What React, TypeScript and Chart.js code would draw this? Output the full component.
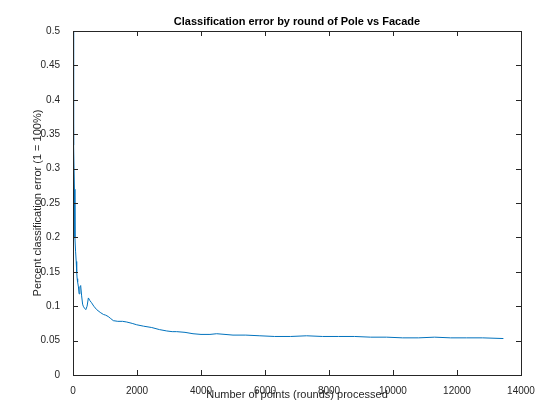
import { useEffect, useRef } from 'react';
import { Chart, registerables } from 'chart.js';

Chart.register(...registerables);

const rounds = [1, 10, 20, 30, 45, 60, 80, 100, 115, 130, 145, 170, 190, 215, 240, 270, 300, 320, 360, 400, 440, 480, 530, 580, 650, 740, 850, 950, 1020, 1100, 1180, 1260, 1400, 1550, 1680, 1850, 1990, 2200, 2460, 2700, 2930, 3100, 3240, 3500, 3750, 4000, 4280, 4490, 4750, 5000, 5400, 5840, 6300, 6800, 7300, 7800, 8300, 8800, 9300, 9800, 10300, 10800, 11300, 11800, 12300, 12800, 13450];
const errors = [0.5, 0.42, 0.36, 0.334, 0.27, 0.2, 0.18, 0.165, 0.15, 0.14, 0.135, 0.128, 0.118, 0.128, 0.13, 0.115, 0.103, 0.1, 0.097, 0.095, 0.1, 0.112, 0.108, 0.105, 0.1, 0.095, 0.091, 0.088, 0.087, 0.085, 0.082, 0.079, 0.078, 0.078, 0.077, 0.075, 0.073, 0.071, 0.069, 0.066, 0.064, 0.063, 0.063, 0.062, 0.06, 0.059, 0.059, 0.06, 0.059, 0.058, 0.058, 0.057, 0.056, 0.056, 0.057, 0.056, 0.056, 0.056, 0.055, 0.055, 0.054, 0.054, 0.055, 0.054, 0.054, 0.054, 0.053];

const xTicks = [0, 2000, 4000, 6000, 8000, 10000, 12000, 14000];
const yTicks = [0, 0.05, 0.1, 0.15, 0.2, 0.25, 0.3, 0.35, 0.4, 0.45, 0.5];

const FONT = 'Helvetica, "Liberation Sans", Arial, sans-serif';

const matlabFrame = {
    id: 'matlabFrame',
    afterDraw(chart: any) {
        const { ctx, chartArea: a, scales } = chart;
        ctx.save();
        ctx.strokeStyle = '#262626';
        ctx.lineWidth = 1;
        ctx.strokeRect(a.left + 0.5, a.top + 0.5, a.right - a.left, a.bottom - a.top);
        ctx.beginPath();
        xTicks.forEach((v) => {
            const px = Math.round(scales.x.getPixelForValue(v)) + 0.5;
            ctx.moveTo(px, a.bottom); ctx.lineTo(px, a.bottom - 5);
            ctx.moveTo(px, a.top); ctx.lineTo(px, a.top + 5);
        });
        yTicks.forEach((v) => {
            const py = Math.round(scales.y.getPixelForValue(v)) + 0.5;
            ctx.moveTo(a.left, py); ctx.lineTo(a.left + 5, py);
            ctx.moveTo(a.right, py); ctx.lineTo(a.right - 5, py);
        });
        ctx.stroke();
        ctx.fillStyle = '#000';
        ctx.font = 'bold 11px ' + FONT;
        ctx.textAlign = 'center';
        ctx.textBaseline = 'middle';
        ctx.fillText('Classification error by round of Pole vs Facade', (a.left + a.right) / 2, 22);
        ctx.restore();
    },
};

export default function App() {
    const chartRef = useRef<HTMLCanvasElement>(null);

    useEffect(() => {
        document.body.style.margin = '0';
        const chart = new Chart(chartRef.current!, {
            type: 'line',
            data: {
                datasets: [{
                    data: rounds.map((r, i) => ({ x: r, y: errors[i] })),
                    borderColor: '#0072BD',
                    borderWidth: 1,
                    pointRadius: 0,
                    tension: 0,
                }],
            },
            options: {
                animation: false,
                responsive: false,
                layout: { padding: { top: 31, right: 39, left: 31, bottom: 18 } },
                plugins: { legend: { display: false }, tooltip: { enabled: false } },
                scales: {
                    x: {
                        type: 'linear', min: 0, max: 14000,
                        afterBuildTicks: (s: any) => { s.ticks = xTicks.map((v) => ({ value: v })); },
                        afterFit: (s: any) => { s.height = 27; },
                        grid: { display: false },
                        border: { display: false },
                        ticks: { color: '#262626', font: { family: FONT, size: 10 }, padding: 2, maxRotation: 0, callback: (v: any) => String(v) },
                        title: { display: true, text: 'Number of points (rounds) processed', color: '#262626', font: { family: FONT, size: 11 }, padding: 0 },
                    },
                    y: {
                        min: 0, max: 0.5,
                        afterBuildTicks: (s: any) => { s.ticks = yTicks.map((v) => ({ value: v })); },
                        afterFit: (s: any) => { s.width = 42; },
                        grid: { display: false },
                        border: { display: false },
                        ticks: { color: '#262626', font: { family: FONT, size: 10 }, padding: 5, callback: (v: any) => String(v) },
                        title: { display: true, text: 'Percent classification error (1 = 100%)', color: '#262626', font: { family: FONT, size: 11 }, padding: 0 },
                    },
                },
            },
            plugins: [matlabFrame],
        });
        return () => chart.destroy();
    }, []);

    return <canvas ref={chartRef} width={560} height={420} style={{ display: 'block' }}></canvas>;
}
